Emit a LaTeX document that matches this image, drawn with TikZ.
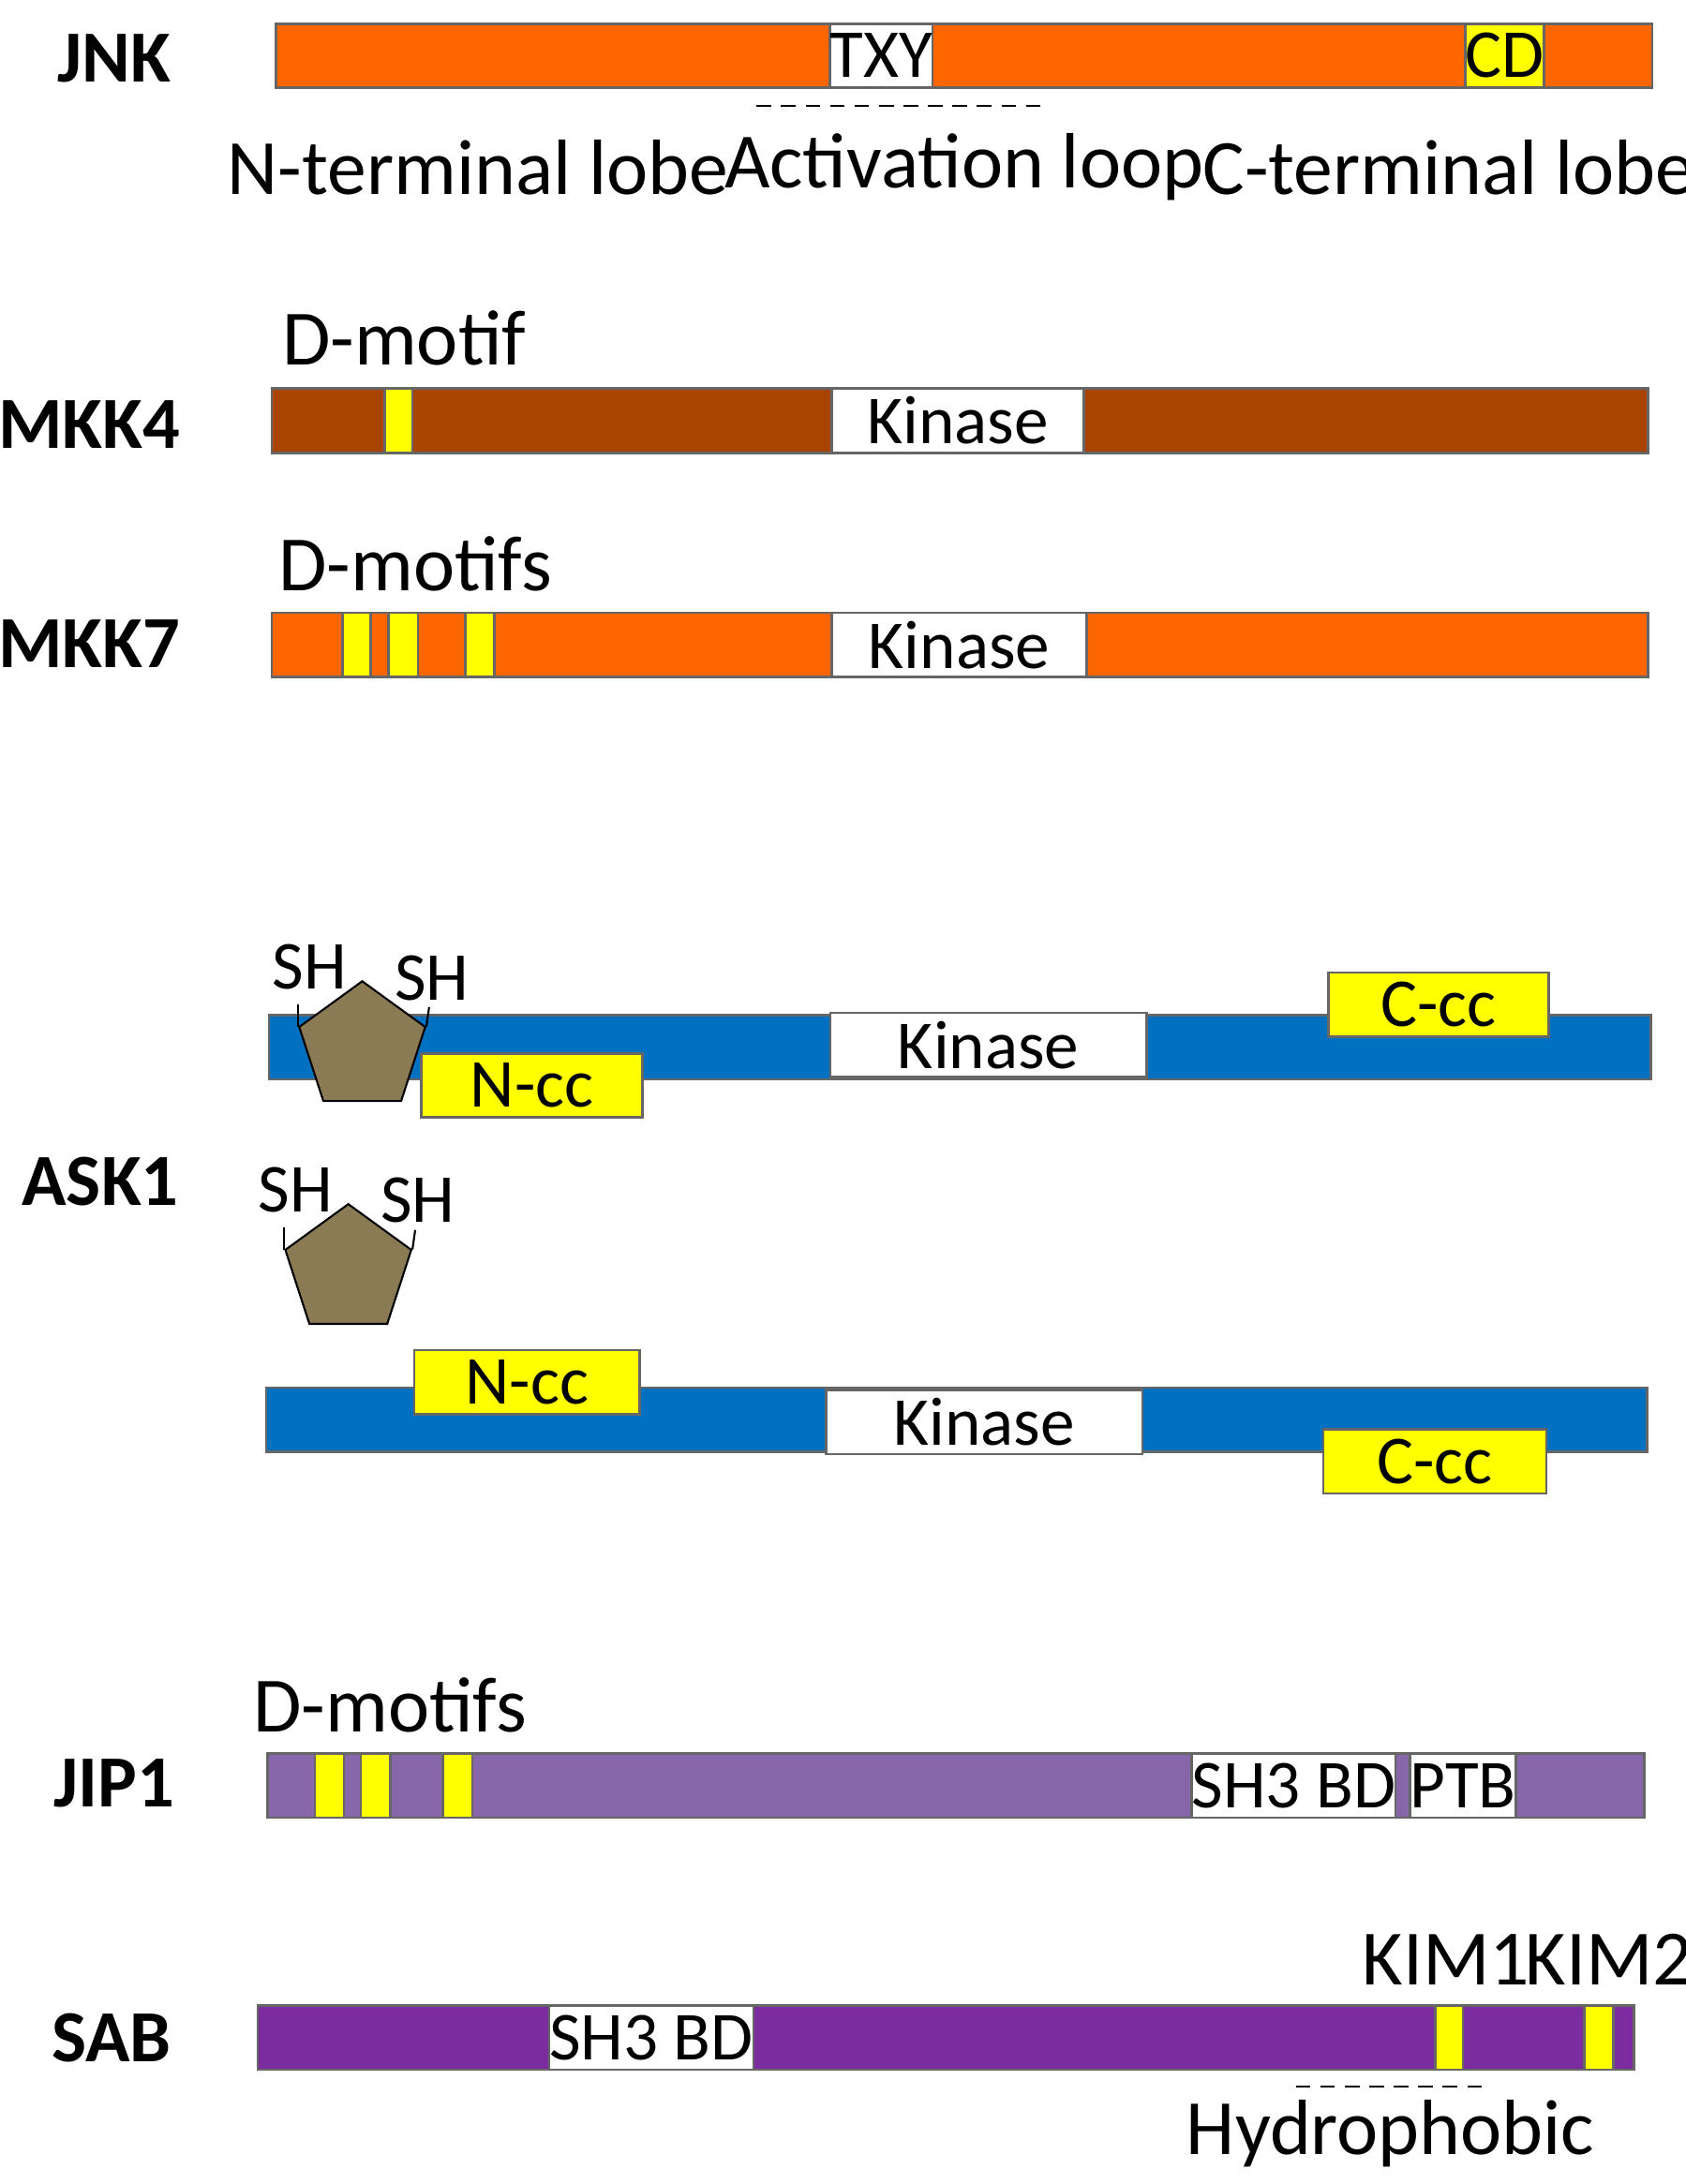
\documentclass[tikz,border=0pt]{standalone}
\usepackage{fontspec}
\setmainfont{Carlito}
\usetikzlibrary{shapes.geometric}
\definecolor{jnkorange}{HTML}{FF6600}
\definecolor{mkkbrown}{HTML}{A84300}
\definecolor{askblue}{HTML}{0070C0}
\definecolor{jippurple}{HTML}{8866AA}
\definecolor{sabpurple}{HTML}{7B2D9F}
\definecolor{shbrown}{HTML}{8B7B55}
\definecolor{motif}{HTML}{FFFF00}
% one domain box: name, x1, x2, y-centre, fill, text
\newcommand{\dom}[6]{\node[segbox, fill=#5, minimum width={(#3-#2)*0.01cm}] (#1) at ({(#2+#3)/2},#4) {#6};}
\tikzset{
  segbox/.style={draw=black!60, line width=0.5pt, inner sep=0pt, minimum height=0.46cm, font=\fontsize{14}{16}\selectfont},
  protname/.style={font=\bfseries\fontsize{15}{17}\selectfont},
  plabel/.style={font=\fontsize{16}{18}\selectfont},
  hint/.style={densely dashed, line width=0.5pt},
}
\begin{document}
\begin{tikzpicture}[x=0.01cm, y=-0.01cm]
\useasboundingbox (0,0) rectangle (1210,1568);

% JNK
\node[protname] (jnk) at (82,42) {JNK};
\dom{jnkbar}{198}{1186}{40}{jnkorange}{}
\dom{txy}{598}{667}{40}{white}{TXY}
\dom{cd}{1052}{1108}{40}{motif}{CD}
\coordinate (loopL) at (543,76);
\coordinate (loopR) at (750,76);
\draw[hint] (loopL) -- (loopR);
\node[plabel] (nlobe) at (343,120) {N-terminal lobe};
\node[plabel] (aloop) at (692,120) {Activation loop};
\node[plabel] (clobe) at (1040,120) {C-terminal lobe};

% MKK4
\node[protname] (mkk4) at (64,305) {MKK4};
\node[plabel] (dmot4) at (290,243) {D-motif};
\dom{mkkfour}{195}{1183}{302}{mkkbrown}{}
\dom{d4}{276}{296}{302}{motif}{}
\dom{kin4}{597}{778}{302}{white}{Kinase}

% MKK7
\node[protname] (mkk7) at (64,462) {MKK7};
\node[plabel] (dmot7) at (298,405) {D-motifs};
\dom{mkkseven}{195}{1183}{463}{jnkorange}{}
\foreach \a/\b [count=\i] in {246/266, 279/300, 334/355}
  \dom{d7\i}{\a}{\b}{463}{motif}{};
\dom{kin7}{597}{780}{463}{white}{Kinase}

% ASK1
\node[protname] (ask1) at (72,848) {ASK1};
\begin{scope}[shift={(195,796)}, rotate=5.1]
  \dom{asktop}{0}{992}{0}{askblue}{}
  \dom{ncctop}{108}{267}{0}{motif}{N-cc}
  \dom{kintop}{403}{630}{0}{white}{Kinase}
  \dom{ccctop}{762}{920}{0}{motif}{C-cc}
\end{scope}
\begin{scope}[shift={(193,976)}, rotate=-5]
  \dom{askbot}{0}{991}{0}{askblue}{}
  \dom{nccbot}{105}{267}{0}{motif}{N-cc}
  \dom{kinbot}{402}{629}{0}{white}{Kinase}
  \dom{cccbot}{760}{920}{0}{motif}{C-cc}
\end{scope}
\foreach \p/\cx/\cy in {top/260/752, bot/250/912} {
  \node[regular polygon, regular polygon sides=5, draw=black, fill=shbrown,
        minimum size=0.95cm, inner sep=0pt] (pent\p) at (\cx,\cy) {};
  \node[font=\fontsize{14}{16}\selectfont] (shl\p) at ([shift={(-38,-58)}]pent\p.center) {SH};
  \node[font=\fontsize{14}{16}\selectfont] (shr\p) at ([shift={(50,-50)}]pent\p.center) {SH};
  \draw (pent\p.corner 2) -- ++(0,-16);
  \draw (pent\p.corner 5) -- ++(2,-14);
}

% JIP1
\node[protname] (jip1) at (82,1280) {JIP1};
\node[plabel] (dmotj) at (280,1224) {D-motifs};
\dom{jipbar}{192}{1180}{1282}{jippurple}{}
\foreach \a/\b [count=\i] in {226/247, 259/280, 318/339}
  \dom{dj\i}{\a}{\b}{1282}{motif}{};
\dom{sh3j}{862}{995}{1282}{white}{SH3 BD}
\dom{ptb}{1017}{1083}{1282}{white}{PTB}

% SAB
\node[protname] (sab) at (80,1463) {SAB};
\dom{sabbar}{185}{1173}{1463}{sabpurple}{}
\dom{sh3s}{400}{535}{1463}{white}{SH3 BD}
\dom{kim1box}{1030}{1050}{1463}{motif}{}
\dom{kim2box}{1137}{1158}{1463}{motif}{}
\node[plabel] (kim1) at (1038,1407) {KIM1};
\node[plabel] (kim2) at (1155,1407) {KIM2};
\coordinate (hydL) at (930,1498);
\coordinate (hydR) at (1065,1498);
\draw[hint] (hydL) -- (hydR);
\node[plabel] (hydro) at (998,1532) {Hydrophobic};
\end{tikzpicture}
\end{document}
